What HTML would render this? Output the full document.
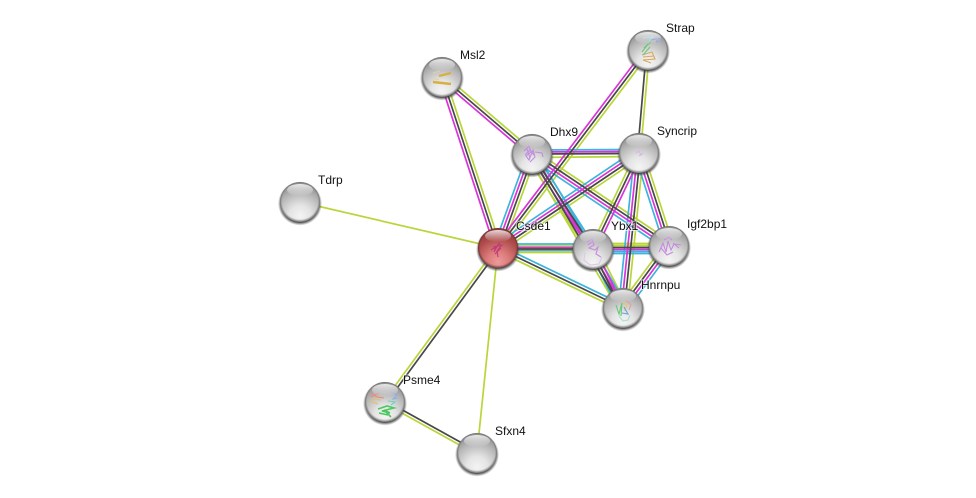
<!DOCTYPE html>
<html><head><meta charset="utf-8"><style>
html,body{margin:0;padding:0;background:#fff;width:976px;height:498px;overflow:hidden}
svg{display:block}
text{font-family:"Liberation Sans",sans-serif;font-size:12px;fill:#111;stroke:#fff;stroke-width:2px;stroke-opacity:.6;paint-order:stroke}
.c line{stroke:#3cb4dc}.m line{stroke:#d933d9}.d line{stroke:#484848}.o line{stroke:#b8d63a}
.e{stroke-width:1.7;fill:none}
.p{fill:none;stroke-width:1.1}
</style></head><body>
<svg width="976" height="498" viewBox="0 0 976 498" xmlns="http://www.w3.org/2000/svg">
<defs>
<radialGradient id="g" cx=".5" cy=".85" r=".9"><stop offset="0" stop-color="#f4f4f4"/><stop offset=".3" stop-color="#e4e4e4"/><stop offset=".65" stop-color="#b6b6b6"/><stop offset="1" stop-color="#7e7e7e"/></radialGradient>
<radialGradient id="r" cx=".5" cy=".85" r=".9"><stop offset="0" stop-color="#ee9a9a"/><stop offset=".3" stop-color="#dd7c7c"/><stop offset=".65" stop-color="#b04c4c"/><stop offset="1" stop-color="#823030"/></radialGradient>
<linearGradient id="h" x1="0" y1="0" x2="0" y2="1"><stop offset="0" stop-color="#fff" stop-opacity=".8"/><stop offset="1" stop-color="#fff" stop-opacity="0"/></linearGradient>
<radialGradient id="s" cx=".5" cy=".48" r=".53"><stop offset=".85" stop-color="#000" stop-opacity="0"/><stop offset="1" stop-color="#000" stop-opacity=".6"/></radialGradient>
<radialGradient id="sh" cx=".5" cy=".5" r=".5"><stop offset=".85" stop-color="#333" stop-opacity=".9"/><stop offset="1" stop-color="#555" stop-opacity="0"/></radialGradient>
<g id="gl"><ellipse cx="0" cy="-12" rx="13" ry="6" fill="url(#h)"/><circle r="20" fill="url(#s)"/></g>
<circle id="bs" cy="1.5" r="22" fill="url(#sh)"/>
</defs>

<g class="e">
<g class="o">
<line x1="498" y1="248" x2="300" y2="202"/>
<line x1="498" y1="248" x2="477" y2="453"/>
<line x1="444.85" y1="76.07" x2="500.85" y2="247.07"/>
<line x1="443.95" y1="74.72" x2="533.95" y2="151.72"/>
<line x1="502.2" y1="249.5" x2="536.2" y2="155.5"/>
<line x1="500.4" y1="249.8" x2="650.4" y2="51.8"/>
<line x1="649.5" y1="50" x2="640.5" y2="153"/>
<line x1="500.5" y1="251.7" x2="641.5" y2="156.7"/>
<line x1="496.7" y1="250.7" x2="621.7" y2="310.7"/>
<line x1="496.8" y1="247.1" x2="383.8" y2="401.1"/>
<line x1="384.25" y1="403.3" x2="476.25" y2="454.3"/>
<line x1="532" y1="157.5" x2="639" y2="156.5"/>
<line x1="527" y1="157.2" x2="588" y2="252.2"/>
<line x1="528.1" y1="156.3" x2="619.1" y2="310.3"/>
<line x1="534.5" y1="150.3" x2="671.5" y2="242.3"/>
<line x1="636.3" y1="151.7" x2="590.3" y2="247.7"/>
<line x1="643.5" y1="153" x2="627.5" y2="308"/>
<line x1="643.3" y1="151.6" x2="673.3" y2="244.6"/>
<line x1="597" y1="247" x2="627" y2="306"/>
<line x1="665.4" y1="243.3" x2="619.4" y2="305.3"/>
<line x1="498" y1="246" x2="593" y2="246"/>
<line x1="498" y1="252.5" x2="593" y2="252.5"/>
<line x1="593" y1="243.5" x2="669" y2="243.5"/>
<line x1="593" y1="245.5" x2="669" y2="245.5"/>
</g>
<g class="c">
<line x1="493.8" y1="246.5" x2="527.8" y2="152.5"/>
<line x1="495.5" y1="244.3" x2="636.5" y2="149.3"/>
<line x1="499.3" y1="245.3" x2="624.3" y2="305.3"/>
<line x1="532" y1="150" x2="639" y2="149.5"/>
<line x1="534.5" y1="152.4" x2="595.5" y2="247.4"/>
<line x1="535.9" y1="151.7" x2="626.9" y2="305.7"/>
<line x1="529.5" y1="157.7" x2="666.5" y2="249.7"/>
<line x1="634.5" y1="153" x2="618.5" y2="308"/>
<line x1="634.7" y1="154.4" x2="664.7" y2="247.4"/>
<line x1="589" y1="251" x2="619" y2="310"/>
<line x1="672.6" y1="248.7" x2="626.6" y2="310.7"/>
<line x1="498" y1="244" x2="593" y2="244"/>
<line x1="498" y1="250.5" x2="593" y2="250.5" style="stroke:#5aa7b8"/>
<line x1="593" y1="251.5" x2="669" y2="251.5"/>
<line x1="593" y1="253.5" x2="669" y2="253.5"/>
</g>
<g class="m">
<line x1="439.15" y1="77.93" x2="495.15" y2="248.93"/>
<line x1="440.05" y1="79.28" x2="530.05" y2="156.28"/>
<line x1="496.6" y1="247.5" x2="530.6" y2="153.5"/>
<line x1="495.6" y1="246.2" x2="645.6" y2="48.2"/>
<line x1="497.2" y1="246.75" x2="638.2" y2="151.75"/>
<line x1="532" y1="152" x2="639" y2="151.5"/>
<line x1="529.5" y1="155.6" x2="590.5" y2="250.6"/>
<line x1="533.3" y1="153.23" x2="624.3" y2="307.23"/>
<line x1="531.16" y1="155.25" x2="668.16" y2="247.25"/>
<line x1="641.7" y1="154.3" x2="595.7" y2="250.3"/>
<line x1="637.5" y1="153" x2="621.5" y2="308"/>
<line x1="637.6" y1="153.47" x2="667.6" y2="246.47"/>
<line x1="594.3" y1="248.3" x2="624.3" y2="307.3"/>
<line x1="670.2" y1="246.9" x2="624.2" y2="308.9"/>
<line x1="498" y1="247.5" x2="593" y2="247.5"/>
<line x1="593" y1="249.5" x2="669" y2="249.5"/>
</g>
<g class="d">
<line x1="442" y1="77" x2="498" y2="248"/>
<line x1="442" y1="77" x2="532" y2="154"/>
<line x1="499.4" y1="248.5" x2="533.4" y2="154.5"/>
<line x1="498" y1="248" x2="648" y2="50"/>
<line x1="646.5" y1="50" x2="637.5" y2="153"/>
<line x1="498.8" y1="249.25" x2="639.8" y2="154.25"/>
<line x1="498" y1="248" x2="623" y2="308"/>
<line x1="499.2" y1="248.9" x2="386.2" y2="402.9"/>
<line x1="385.75" y1="400.7" x2="477.75" y2="451.7"/>
<line x1="532" y1="154" x2="639" y2="153.5"/>
<line x1="532" y1="154" x2="593" y2="249"/>
<line x1="530.7" y1="154.77" x2="621.7" y2="308.77"/>
<line x1="532.84" y1="152.75" x2="669.84" y2="244.75"/>
<line x1="639" y1="153" x2="593" y2="249"/>
<line x1="640.5" y1="153" x2="624.5" y2="308"/>
<line x1="640.4" y1="152.53" x2="670.4" y2="245.53"/>
<line x1="591.7" y1="249.7" x2="621.7" y2="308.7"/>
<line x1="667.8" y1="245.1" x2="621.8" y2="307.1"/>
<line x1="498" y1="249" x2="593" y2="249"/>
<line x1="593" y1="247.5" x2="669" y2="247.5"/>
</g>
</g>

<!-- nodes -->
<g transform="translate(498,248)"><use href="#bs"/><circle r="20" fill="url(#r)"/>
<path class="p" stroke="#c03a7a" d="M-7 2L-2 -1L-4 4L1 -5L3 -2L-1 3L0 9M-5 -1L5 -3M-3 6L3 0"/><use href="#gl"/></g>
<g transform="translate(532,154)"><use href="#bs"/><circle r="20" fill="url(#g)"/>
<path class="p" stroke="#c08ce0" d="M-8 -3L-3 -8L-1 -2L-6 2L-3 6L1 -4L3 3L-2 8M3 -2L10 -1L11 3M-5 -5L-2 4M-7 1L-2 -4L2 1"/><use href="#gl"/></g>
<g transform="translate(639,153)"><use href="#bs"/><circle r="20" fill="url(#g)"/>
<path class="p" stroke="#d8b8e8" d="M-3 0L0 -2L2 2L4 0L0 3"/><use href="#gl"/></g>
<g transform="translate(648,50)"><use href="#bs"/><circle r="20" fill="url(#g)"/>
<path class="p" stroke="#d8a860" d="M-6 5L4 2L7 9L-5 10L3 13M-5 7L6 6"/><path class="p" stroke="#6cc878" d="M-6 2L0 -6L-4 -2L3 -8M-5 5L2 -3"/><path class="p" stroke="#6a8ad8" d="M3 -10L13 -12L8 -8"/><path class="p" stroke="#8ad0d8" d="M-5 -12L5 -13L0 -8"/><use href="#gl"/></g>
<g transform="translate(442,77)"><use href="#bs"/><circle r="20" fill="url(#g)"/>
<path class="p" stroke="#d8b040" style="stroke-width:2.4" d="M-3 -1L9 -4M-9 5L9 7"/><path class="p" stroke="#ddd2a8" d="M-9 -4L-2 -6M-10 1L-3 3"/><use href="#gl"/></g>
<g transform="translate(300,202)"><use href="#bs"/><circle r="20" fill="url(#g)"/><use href="#gl"/></g>
<g transform="translate(593,249)"><use href="#bs"/><circle r="20" fill="url(#g)"/>
<path class="p" stroke="#c78ae0" d="M-6 -7L-1 -10L1 -4L-4 -1L2 1L5 -2L3 5L8 8M-5 -4L0 -8"/><path class="p" stroke="#e0c8e8" d="M-8 4L-9 11L-3 16L6 15L9 8"/><use href="#gl"/></g>
<g transform="translate(669,246)"><use href="#bs"/><circle r="20" fill="url(#g)"/>
<path class="p" stroke="#c58ae0" d="M-10 6L-6 -3L-3 6L-1 -5L2 4L5 -2L12 -1M-8 2L-2 9L4 6M-5 -6L0 -9L3 -6M4 -3L10 2"/><use href="#gl"/></g>
<g transform="translate(623,308)"><use href="#bs"/><circle r="20" fill="url(#g)"/>
<path class="p" stroke="#66c878" d="M-7 -3L-4 6L-1 -5L-2 8"/><path class="p" stroke="#e8c860" d="M0 -6L4 -2L1 3"/><path class="p" stroke="#6aa0e0" d="M1 -1L5 6L-1 5"/><path class="p" stroke="#e0a0a0" d="M3 -8L8 -3L6 2"/><path class="p" stroke="#a8e0d0" d="M-4 8L0 13L5 12L7 7"/><use href="#gl"/></g>
<g transform="translate(385,402)"><use href="#bs"/><circle r="20" fill="url(#g)"/>
<path class="p" stroke="#e88c80" d="M-15 -9L-8 -5L-1 -4M-14 -5L-6 -9"/><path class="p" stroke="#e8c060" d="M-15 -1L-7 2M-12 -3L-4 -2"/><path class="p" stroke="#8ab0e8" d="M6 -10L12 -7L8 -3L13 -4"/><path class="p" stroke="#70d0c8" d="M3 -1L10 0L6 3"/><path class="p" stroke="#4cc860" style="stroke-width:1.6" d="M-7 7L2 4L9 6L-3 9L5 11L-1 8L6 15M-6 11L3 13"/><use href="#gl"/></g>
<g transform="translate(477,453)"><use href="#bs"/><circle r="20" fill="url(#g)"/><use href="#gl"/></g>

<text x="460" y="59">Msl2</text>
<text x="666" y="32">Strap</text>
<text x="550" y="136">Dhx9</text>
<text x="657" y="135">Syncrip</text>
<text x="318" y="184">Tdrp</text>
<text x="516" y="230">Csde1</text>
<text x="611" y="230">Ybx1</text>
<text x="687" y="228">Igf2bp1</text>
<text x="641" y="289">Hnrnpu</text>
<text x="403" y="384">Psme4</text>
<text x="495" y="435">Sfxn4</text>
</svg>
</body></html>
